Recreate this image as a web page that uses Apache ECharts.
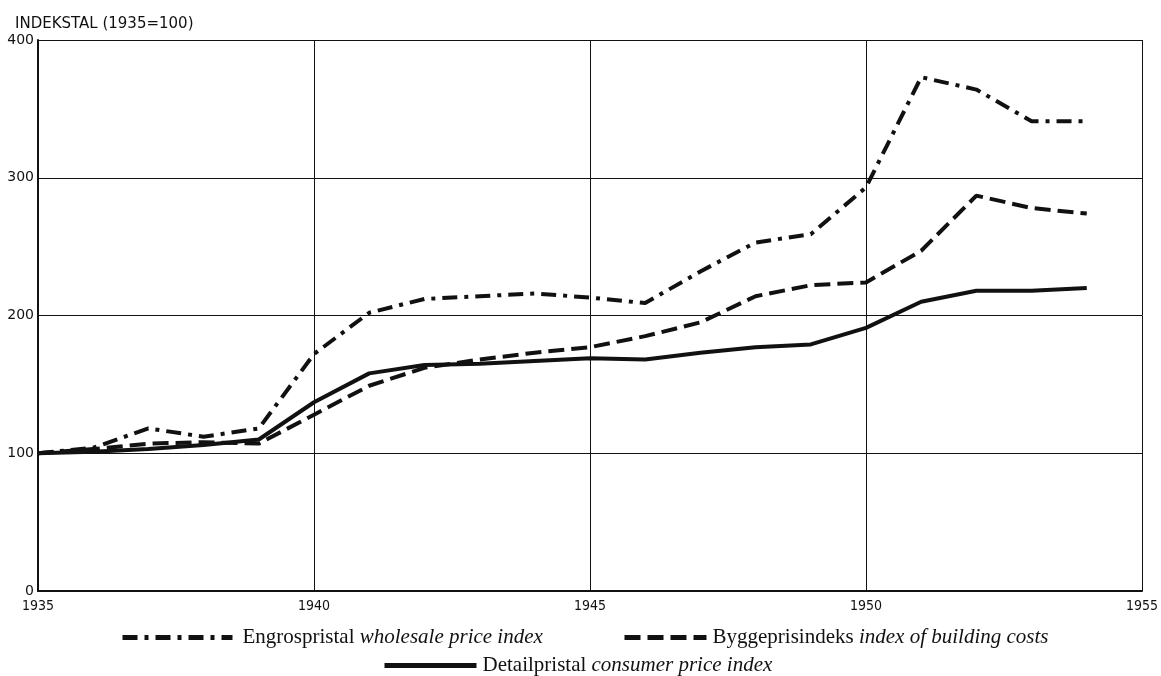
<!DOCTYPE html>
<html><head><meta charset="utf-8">
<script src="https://cdn.jsdelivr.net/npm/echarts@6/dist/echarts.min.js"></script>
<style>html,body{margin:0;padding:0;background:#fff}#c{width:1161px;height:676px}</style>
</head><body><div id="c"></div>
<script>
const years = [1935,1936,1937,1938,1939,1940,1941,1942,1943,1944,1945,1946,1947,1948,1949,1950,1951,1952,1953,1954];
const wholesale = [100,104,118,112,118,172,202,212,214,216,213,209,232,253,259,293,373,364,341,341];
const building  = [100,103,107,108,107,128,149,162,168,173,177,185,195,214,222,224,247,287,278,274];
const consumer  = [100,101,103,106,110,137,158,164,165,167,169,168,173,177,179,191,210,218,218,220];
const xTicks = [1935,1940,1945,1950,1955];
const yTicks = [0,100,200,300,400];

const pairs = v => years.map((y,i)=>[y,v[i]]);
const chart = echarts.init(document.getElementById('c'));
const names = {w:'Engrospristal', b:'Byggeprisindeks', c:'Detailpristal'};
const italic = {w:'wholesale price index', b:'index of building costs', c:'consumer price index'};
function leg(name, left, top, w, pad){
  return {data:[name],left:left,top:top,itemWidth:w,itemHeight:10,
    itemStyle:{opacity:0},
    lineStyle:{width:5},
    formatter:n=>'{s|}'+names[n]+' {i|'+italic[n]+'}',
    textStyle:{fontFamily:'Liberation Serif',fontSize:21,color:'#111',
      rich:{s:{width:pad},i:{fontFamily:'Liberation Serif',fontStyle:'italic',fontSize:21,color:'#111'}}}};
}
chart.setOption({
  animation:false,
  title:{text:'INDEKSTAL (1935=100)', left:10, top:12,
    textStyle:{fontFamily:'DejaVu Sans',fontWeight:'normal',fontSize:15,color:'#111'}},
  grid:{left:38,right:15,top:40,bottom:85},
  xAxis:{type:'value',min:1935,max:1955,interval:5,
    axisLine:{lineStyle:{color:'#111',width:2}},
    axisTick:{show:false},
    axisLabel:{fontFamily:'DejaVu Sans Condensed',fontSize:14,color:'#111',margin:8,
      formatter:v=>xTicks.includes(v)?String(v):''},
    splitLine:{show:true,lineStyle:{color:'#111',width:1}}},
  yAxis:{type:'value',min:0,max:400,interval:100,
    axisLine:{show:true,lineStyle:{color:'#111',width:2}},
    axisTick:{show:false},
    axisLabel:{fontFamily:'DejaVu Sans',fontSize:14,color:'#111',margin:4,
      formatter:v=>yTicks.includes(v)?String(v):''},
    splitLine:{show:true,lineStyle:{color:'#111',width:1}}},
  legend:[
    leg('w',115,622,110,5),
    leg('b',617,622,82,1),
    leg('c',377,650,92,1)
  ],
  series:[
    {name:'w',type:'line',data:pairs(wholesale),symbol:'none',z:3,
     lineStyle:{color:'#111',width:4,type:[15,7,4,7]}},
    {name:'b',type:'line',data:pairs(building),symbol:'none',z:3,
     lineStyle:{color:'#111',width:4,type:[16,7]}},
    {name:'c',type:'line',data:pairs(consumer),symbol:'none',z:4,
     lineStyle:{color:'#111',width:4,type:'solid'}}
  ]
});
</script></body></html>
